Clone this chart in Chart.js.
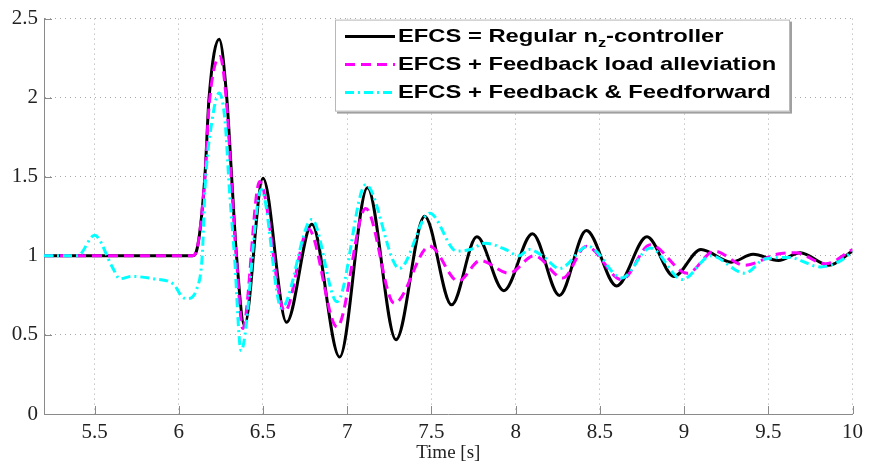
<!DOCTYPE html>
<html>
<head>
<meta charset="utf-8">
<script src="https://cdn.jsdelivr.net/npm/chart.js@4/dist/chart.umd.min.js"></script>
<style>
  html, body { margin: 0; padding: 0; background: #fff; }
  #wrap { width: 869px; height: 464px; }
</style>
</head>
<body>
<div id="wrap"><canvas id="chart"></canvas></div>
<script>
// values (time in s, load factor)
const xTicks = [5.5, 6, 6.5, 7, 7.5, 8, 8.5, 9, 9.5, 10]
const yTicks = [0, 0.5, 1, 1.5, 2, 2.5]

const legendParts = [
  ['EFCS = Regular n', 'z', '-controller'],
  ['EFCS + Feedback load alleviation'],
  ['EFCS + Feedback & Feedforward']
]

const blackTime = [5.2, 6.08, 6.11, 6.155, 6.18, 6.24, 6.285, 6.314, 6.343, 6.39,
  6.50, 6.64, 6.79, 6.955, 7.12, 7.29, 7.46, 7.62, 7.77, 7.93,
  8.10, 8.26, 8.42, 8.60, 8.78, 8.94, 9.10, 9.28, 9.41, 9.56,
  9.69, 9.86, 10.0]
const blackValue = [1.0, 1.0, 1.05, 1.5, 2.0, 2.37, 2.0, 1.5, 1.0, 0.56,
  1.49, 0.58, 1.2, 0.36, 1.43, 0.47, 1.25, 0.69, 1.12, 0.78,
  1.14, 0.75, 1.16, 0.81, 1.12, 0.87, 1.04, 0.96, 1.01, 0.97,
  1.02, 0.94, 1.03]

const magentaTime = [5.2, 6.08, 6.11, 6.155, 6.18, 6.245, 6.285, 6.314, 6.343, 6.38,
  6.48, 6.63, 6.77, 6.94, 7.11, 7.28, 7.49, 7.66, 7.79, 7.96,
  8.11, 8.28, 8.42, 8.63, 8.80, 9.02, 9.18, 9.36, 9.55, 9.66,
  9.84, 10.0]
const magentaValue = [1.0, 1.0, 1.05, 1.5, 1.95, 2.26, 1.95, 1.45, 0.98, 0.54,
  1.47, 0.65, 1.17, 0.55, 1.30, 0.70, 1.06, 0.84, 0.97, 0.89,
  1.0, 0.86, 1.06, 0.85, 1.07, 0.89, 1.03, 0.94, 1.01, 1.02,
  0.95, 1.04]

const cyanTime = [5.2, 5.40, 5.50, 5.605, 5.65, 5.72, 5.85, 5.97, 6.02, 6.05,
  6.11, 6.14, 6.156, 6.197, 6.24, 6.275, 6.30, 6.33, 6.37, 6.49,
  6.61, 6.79, 6.94, 7.11, 7.31, 7.49, 7.65, 7.73, 7.82, 7.94,
  8.02, 8.08, 8.16, 8.26, 8.43, 8.63, 8.80, 8.99, 9.16, 9.36,
  9.48, 9.62, 9.81, 9.93, 10.0]
const cyanValue = [1.0, 1.0, 1.13, 0.93, 0.855, 0.87, 0.855, 0.82, 0.74, 0.73,
  0.8, 1.01, 1.43, 1.85, 2.03, 1.85, 1.43, 1.01, 0.40, 1.42,
  0.67, 1.23, 0.71, 1.45, 0.92, 1.27, 1.03, 1.04, 1.08, 1.04,
  1.0, 1.04, 1.0, 0.92, 1.06, 0.86, 1.05, 0.85, 1.0, 0.89,
  0.98, 0.99, 0.93, 0.97, 1.03]

const toPoints = (xs, ys) => xs.map((x, i) => ({ x: x, y: ys[i] }))

const axisColor = '#8a8a8a'
const tickFont = { family: '"Liberation Serif", "Times New Roman", serif', size: 21 }

// MATLAB style ticks pointing into the plot
const innerTicks = {
  id: 'innerTicks',
  beforeDatasetsDraw(chart) {
    const ctx = chart.ctx
    const a = chart.chartArea
    const xs = chart.scales.x
    const ys = chart.scales.y
    ctx.save()
    ctx.strokeStyle = axisColor
    ctx.lineWidth = 1
    ctx.beginPath()
    xTicks.forEach(v => {
      const px = Math.round(xs.getPixelForValue(v)) + 0.5
      ctx.moveTo(px, a.bottom)
      ctx.lineTo(px, a.bottom - 8)
    })
    yTicks.forEach(v => {
      const py = Math.round(ys.getPixelForValue(v)) + 0.5
      ctx.moveTo(a.left, py)
      ctx.lineTo(a.left + 8, py)
    })
    ctx.stroke()
    ctx.restore()
  }
}

const boxLegend = {
  id: 'boxLegend',
  afterDraw(chart) {
    const ctx = chart.ctx
    const a = chart.chartArea
    const x0 = a.left + 291
    const y0 = a.top + 1
    const w = 455
    const h = 92
    const stretch = 1.25 // the legend lettering in the figure is wide
    ctx.save()
    ctx.fillStyle = '#a0a0a0'
    ctx.fillRect(x0 + 2, y0 + 2, w, h)
    ctx.fillStyle = '#fff'
    ctx.fillRect(x0, y0, w, h)
    ctx.strokeStyle = '#b8b8b8'
    ctx.lineWidth = 1
    ctx.strokeRect(x0 + 0.5, y0 + 0.5, w - 1, h - 1)

    chart.data.datasets.forEach((ds, i) => {
      const y = y0 + 17 + i * 28
      ctx.strokeStyle = ds.borderColor
      ctx.lineWidth = ds.borderWidth
      ctx.setLineDash(ds.borderDash || [])
      ctx.beginPath()
      ctx.moveTo(x0 + 10, y)
      ctx.lineTo(x0 + 60, y)
      ctx.stroke()
      ctx.setLineDash([])

      ctx.save()
      ctx.translate(x0 + 63, 0)
      ctx.scale(stretch, 1)
      ctx.fillStyle = '#000'
      ctx.textBaseline = 'middle'
      let x = 0
      legendParts[i].forEach((part, j) => {
        const sub = j === 1
        ctx.font = 'bold ' + (sub ? 13 : 19) + 'px "Liberation Sans", Arial, sans-serif'
        ctx.fillText(part, x, sub ? y + 7 : y)
        x += ctx.measureText(part).width
      })
      ctx.restore()
    })
    ctx.restore()
  }
}

const lineStyle = {
  borderWidth: 3,
  pointRadius: 0,
  fill: false,
  cubicInterpolationMode: 'monotone'
}

new Chart(document.getElementById('chart'), {
  type: 'line',
  data: {
    datasets: [
      {
        ...lineStyle,
        label: legendParts[0].join(''),
        data: toPoints(blackTime, blackValue),
        borderColor: '#000000',
        order: 3
      },
      {
        ...lineStyle,
        label: legendParts[1].join(''),
        data: toPoints(magentaTime, magentaValue),
        borderColor: '#ff00ff',
        borderDash: [10, 6],
        order: 2
      },
      {
        ...lineStyle,
        label: legendParts[2].join(''),
        data: toPoints(cyanTime, cyanValue),
        borderColor: '#00ffff',
        borderDash: [9, 4, 2, 4],
        order: 1
      }
    ]
  },
  options: {
    responsive: true,
    maintainAspectRatio: false,
    animation: false,
    layout: { padding: { top: 15, right: 15, left: 0, bottom: 0 } },
    plugins: {
      legend: { display: false },
      tooltip: { enabled: false }
    },
    scales: {
      x: {
        type: 'linear',
        min: 5.2,
        max: 10,
        afterBuildTicks: s => { s.ticks = xTicks.map(v => ({ value: v })) },
        afterFit: s => { s.height = 50 },
        ticks: {
          color: '#222',
          font: tickFont,
          padding: 6,
          maxRotation: 0,
          callback: v => String(v)
        },
        grid: { color: '#a8a8a8', lineWidth: 1, drawTicks: false },
        border: { display: true, color: axisColor, width: 1, dash: [1, 4] },
        title: {
          display: true,
          text: 'Time [s]',
          color: '#222',
          font: { family: '"Liberation Serif", "Times New Roman", serif', size: 19 },
          padding: { top: 0, bottom: 0 }
        }
      },
      y: {
        min: 0,
        max: 2.5,
        afterBuildTicks: s => { s.ticks = yTicks.map(v => ({ value: v })) },
        afterFit: s => { s.width = 44 },
        ticks: {
          color: '#222',
          font: tickFont,
          padding: 6,
          callback: v => String(v)
        },
        grid: { color: '#a8a8a8', lineWidth: 1, drawTicks: false },
        border: { display: true, color: axisColor, width: 1, dash: [1, 4] }
      }
    }
  },
  plugins: [innerTicks, boxLegend]
})
</script>
</body>
</html>
